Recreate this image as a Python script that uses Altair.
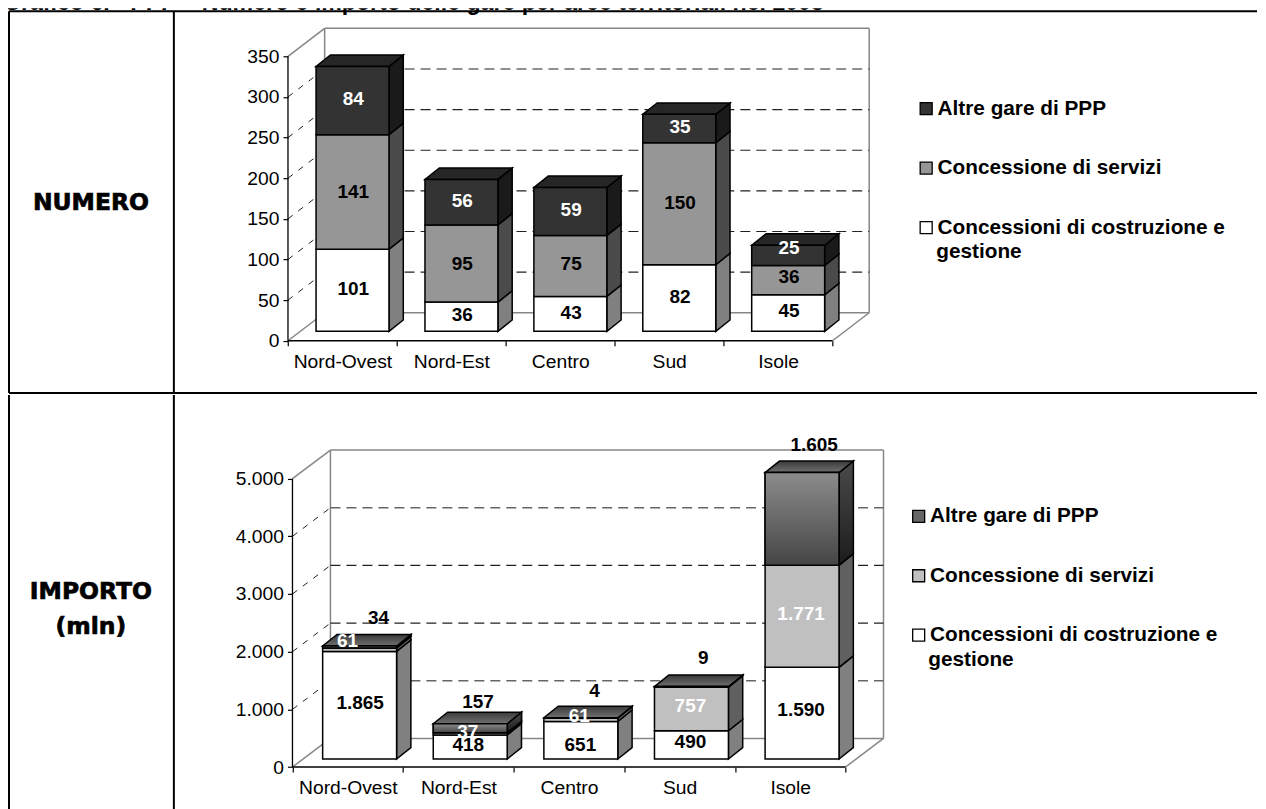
import json
import altair as alt
import pandas as pd

AREAS = ["Nord-Ovest", "Nord-Est", "Centro", "Sud", "Isole"]
SERIES = ["Altre gare di PPP", "Concessione di servizi", "Concessioni di costruzione e gestione"]
LEGEND_SECOND_LINE = "gestione"
TITLE = "Grafico 6. - PPP \u2013 Numero e importo delle gare per aree territoriali nel 2005"

# values, bottom of the stack first
NUM_COSTR = [101, 36, 43, 82, 45]
NUM_SERV = [141, 95, 75, 150, 36]
NUM_ALTRE = [84, 56, 59, 35, 25]
IMP_COSTR = [1865, 418, 651, 490, 1590]
IMP_SERV = [61, 37, 61, 757, 1771]
IMP_ALTRE = [34, 157, 4, 9, 1605]

# where the value labels sit (value units / category units)
NUM_LABEL_Y = [[64, 32, 34, 54, 36], [183, 95, 94, 170, 78], [297, 172, 161, 263, 114]]
NUM_LABEL_X = [[.599, 1.6, 2.6, 3.6, 4.6]] * 3
IMP_LABEL_Y = [[1114, 381, 381, 426, 988], [2183, 612, 889, 1057, 2661], [2587, 1119, 1322, 1882, 5589]]
IMP_LABEL_X = [[.612, 1.589, 2.603, 3.598, 4.598], [.498, 1.585, 2.592, 3.598, 4.598],
               [.778, 1.678, 2.731, 3.715, 4.716]]
NUM_TICKS = [0, 50, 100, 150, 200, 250, 300, 350]
IMP_TICKS = [0, 1000, 2000, 3000, 4000, 5000]

FONT = "Liberation Sans"
W = 1250


def it(n):
    return f"{n:,}".replace(",", ".")


def gradient(a, b):
    return alt.Gradient(gradient="linear", x1=0, x2=0, y1=0, y2=1,
                        stops=[alt.GradientStop(color=a, offset=0), alt.GradientStop(color=b, offset=1)])


def panel(cfg):
    px, py, k, cw = cfg["ox"], cfg["oy"], cfg["k"], cfg["cw"]
    H = cfg["H"]
    x_dom = [(8 - px) / cw, (8 + W - px) / cw]
    y_dom = [(py - cfg["top"] - H) / k, (py - cfg["top"]) / k]
    xs = alt.Scale(domain=x_dom, nice=False, zero=False)
    ys = alt.Scale(domain=y_dom, nice=False, zero=False)
    X = lambda f: alt.X(f, type="quantitative", scale=xs, axis=None)
    Y = lambda f: alt.Y(f, type="quantitative", scale=ys, axis=None)

    ticks = cfg["ticks"]
    ymax = ticks[-1]
    wx, wy = cfg["wall_dx"] / cw, cfg["wall_dy"] / k
    sx, sy = cfg["side_dx"] / cw, cfg["side_dy"] / k
    base = cfg["bar_base"] / k
    off, bw = cfg["bar_off"] / cw, cfg["bar_w"] / cw

    # ---- stacked segments
    segs, sides, labels = [], [], []
    for s_i, (vals, name, side) in enumerate(zip(cfg["stack"], cfg["names"], cfg["side"])):
        for i, v in enumerate(vals):
            v0 = sum(cfg["stack"][j][i] for j in range(s_i))
            L, R = i + off, i + off + bw
            b, t = v0 + base, v0 + v + base
            segs.append(dict(i=i, s=s_i, name=name, L=L, R=R, b=b, t=t))
            sides.append(dict(g=f"{i}-{s_i}", s=s_i, c=side, x=R, t=t, b=b))
            sides.append(dict(g=f"{i}-{s_i}", s=s_i, c=side, x=R + sx, t=t + sy, b=b + sy))
            labels.append(dict(x=cfg["lab_x"][s_i][i], y=cfg["lab_y"][s_i][i], text=it(v),
                               c=cfg["lab_c"][s_i]))
    segs = pd.DataFrame(segs)
    sides = pd.DataFrame(sides)
    labels = pd.DataFrame(labels)
    tops = []
    for i in range(5):
        T = base + sum(cfg["stack"][j][i] for j in range(3))
        L, R = i + off, i + off + bw
        tops.append(dict(g=i, y=T, a=L, b=R))
        tops.append(dict(g=i, y=T + sy, a=L + sx, b=R + sx))
    tops = pd.DataFrame(tops)

    # ---- walls, grid
    def rules(rows, color, width, dash=None):
        d = pd.DataFrame(rows, columns=["x", "y", "x2", "y2"])
        kw = dict(color=color, strokeWidth=width)
        if dash:
            kw["strokeDash"] = dash
        return alt.Chart(d).mark_rule(**kw).encode(
            x=X("x"), y=Y("y"), x2=alt.X2("x2"), y2=alt.Y2("y2"))

    inner = ticks[1:-1]
    walls = rules([
        [wx, wy, wx, ymax + wy], [wx, ymax + wy, 5 + wx, ymax + wy],
        [5 + wx, ymax + wy, 5 + wx, wy], [wx, wy, 5 + wx, wy],
        [0, 0, wx, wy], [0, ymax, wx, ymax + wy], [5, 0, 5 + wx, wy],
    ], "#868686", 1.5)
    grey = cfg.get("grey_grid", [])
    grid_back = [rules([[wx, v + wy, 5 + wx, v + wy] for v in inner if v not in grey],
                       "#222222", 1.1, [10, 6])]
    if grey:
        grid_back.append(rules([[wx, v + wy, 5 + wx, v + wy] for v in grey], "#666666", 1.6, [10, 6]))
    grid_side = rules([[0, v, wx, v + wy] for v in inner], "#222222", 1.0, [6, 7])

    # ---- axes: real axes, pulled in from the edges of the row
    y_offset = -(px - 8)
    x_offset = -(cfg["top"] + H - py)
    fmt = "replace(format(datum.value, ','), ',', '.')"
    y_axis_layer = alt.Chart(pd.DataFrame({"x": [0], "a": [0], "b": [ymax]})).mark_rule(
        color="black", strokeWidth=1.3).encode(
        x=X("x"),
        y=alt.Y("a:Q", scale=ys, axis=alt.Axis(
            values=ticks, orient="left", offset=y_offset, domain=False, grid=False, title=None,
            tickSize=5, tickColor="black", tickWidth=1.2, labelFont=FONT, labelFontSize=cfg["tick_fs"],
            labelColor="black", labelPadding=4, labelExpr=fmt)),
        y2=alt.Y2("b"))
    x_ticks_layer = alt.Chart(pd.DataFrame({"a": [0], "b": [5], "y": [0]})).mark_rule(
        color="black", strokeWidth=1.3).encode(
        x=alt.X("a:Q", scale=xs, axis=alt.Axis(
            values=list(range(6)), orient="bottom", offset=x_offset, domain=False, grid=False, title=None,
            tickSize=5, tickColor="black", tickWidth=1.2, labels=False)),
        x2=alt.X2("b"),
        y=Y("y"))
    names = json.dumps(AREAS)
    x_labels_layer = alt.Chart(pd.DataFrame({"a": [0.5], "y": [0]})).mark_point(opacity=0).encode(
        x=alt.X("a:Q", scale=xs, axis=alt.Axis(
            values=[i + .5 for i in range(5)], orient="bottom", offset=x_offset, domain=False, grid=False,
            title=None, ticks=False, labelFont=FONT, labelFontSize=cfg["tick_fs"], labelColor="black",
            labelPadding=cfg["x_pad"], labelExpr=f"{names}[floor(datum.value)]")),
        y=Y("y"))

    # ---- bars
    stroke = dict(stroke="black", strokeWidth=1.5)
    side_layer = alt.Chart(sides).mark_area(**stroke).encode(
        x=X("x"), y=Y("t"), y2=alt.Y2("b"), detail="g:N", fill=alt.Fill("c:N", scale=None))
    layers_extra = []
    if cfg.get("grad"):
        layers_extra.append(alt.Chart(sides[sides.s == 2]).mark_area(
            fill=gradient(*cfg["grad"]["side"]), **stroke).encode(
            x=X("x"), y=Y("t"), y2=alt.Y2("b"), detail="g:N"))
    top_fill = gradient(*cfg["grad"]["top"]) if cfg.get("grad") else cfg["top_fill"]
    top_layer = alt.Chart(tops).mark_area(orient="horizontal", fill=top_fill, **stroke).encode(
        y=Y("y"), x=X("a"), x2=alt.X2("b"), detail="g:N")
    front = alt.Chart(segs).mark_rect(**stroke).encode(
        x=X("L"), x2=alt.X2("R"), y=Y("t"), y2=alt.Y2("b"),
        color=alt.Color("name:N", scale=alt.Scale(domain=cfg["names"][::-1], range=cfg["front"][::-1]),
                        legend=alt.Legend(
            orient="none", legendX=cfg["leg_x"], legendY=cfg["leg_y"], title=None, symbolType="square",
            symbolSize=cfg["sym"], symbolStrokeColor="black", symbolStrokeWidth=1.3, symbolOpacity=1,
            labelFont=FONT, labelFontSize=cfg["leg_fs"], labelFontWeight="bold", labelColor="black",
            labelLimit=500, labelOffset=1, rowPadding=cfg["row_pad"], columnPadding=0, padding=0,
            labelExpr=f"replace(datum.label, ' {LEGEND_SECOND_LINE}', '')")))
    if cfg.get("grad"):
        layers_extra_front = [alt.Chart(segs[segs.s == 2]).mark_rect(
            fill=gradient(*cfg["grad"]["front"]), **stroke).encode(
            x=X("L"), x2=alt.X2("R"), y=Y("t"), y2=alt.Y2("b"))]
    else:
        layers_extra_front = []
    label_layer = alt.Chart(labels).mark_text(font=FONT, fontSize=cfg["lab_fs"], fontWeight="bold",
                                              baseline="middle").encode(
        x=X("x"), y=Y("y"), text="text:N", color=alt.Color("c:N", scale=None))

    # ---- table frame and row heading (decoration of the page, not data)
    def frame(x, x2, y, y2):
        return alt.Chart(pd.DataFrame({"f": [0]})).mark_rule(color="black", strokeWidth=2).encode(
            x=alt.value(x), x2=alt.value(x2), y=alt.value(y), y2=alt.value(y2))

    heading = []
    for text, y in cfg["head"]:
        heading.append(alt.Chart(pd.DataFrame({"t": [text]})).mark_text(
            font="DejaVu Sans", fontWeight="bold", fontSize=23.5, baseline="middle", color="black",
            stroke="black", strokeWidth=0.7).encode(
            text="t:N", x=alt.value(83), y=alt.value(y)))
    second_line = alt.Chart(pd.DataFrame({"t": [LEGEND_SECOND_LINE]})).mark_text(
        font=FONT, fontWeight="bold", fontSize=cfg["leg_fs"], baseline="middle", align="left", color="black"
    ).encode(text="t:N", x=alt.value(cfg["second"][0]), y=alt.value(cfg["second"][1]))

    extra = []
    if cfg.get("title"):
        extra.append(alt.Chart(pd.DataFrame({"t": [TITLE]})).mark_text(
            font=FONT, fontWeight="bold", fontSize=cfg["title_fs"], align="left", baseline="alphabetic",
            color="black", clip=True).encode(text="t:N", x=alt.value(-5), y=alt.value(2)))

    return alt.layer(
        walls, *grid_back, grid_side, x_ticks_layer, x_labels_layer, y_axis_layer,
        side_layer, *layers_extra, top_layer, front, *layers_extra_front, label_layer,
        second_line, *heading, *cfg["frames"](frame), *extra,
    ).resolve_axis(x="independent", y="independent").properties(width=W, height=H)


row1 = panel(dict(
    ox=288.2, oy=340.7, k=0.8134, cw=109, top=8, H=385, ticks=NUM_TICKS,
    wall_dx=36.7, wall_dy=28, side_dx=14.3, side_dy=11.4, bar_base=9.4, bar_off=28.1, bar_w=73,
    stack=[NUM_COSTR, NUM_SERV, NUM_ALTRE], names=SERIES[::-1],
    front=["#ffffff", "#969696", "#333333"], side=["#808080", "#4b4b4b", "#1a1a1a"], top_fill="#262626",
    lab_x=NUM_LABEL_X, lab_y=NUM_LABEL_Y, lab_c=["black", "black", "white"], lab_fs=19,
    tick_fs=19.3, x_pad=11.5, leg_x=908.5, leg_y=90, sym=144, leg_fs=20.8, row_pad=37.5,
    second=(929, 243.5), head=[("NUMERO", 195)], title=True, title_fs=23.15,
    frames=lambda f: [f(1, W, 3, 3), f(1, 1, 3, 385), f(166, 166, 3, 385), f(1, W, 385, 385)],
))
row2 = panel(dict(
    ox=292.7, oy=765.3, k=0.05772, cw=110.7, top=393, H=416, ticks=IMP_TICKS,
    wall_dx=38, wall_dy=28.6, side_dx=14.3, side_dy=11.5, bar_base=8, bar_off=30.2, bar_w=74,
    stack=[IMP_COSTR, IMP_SERV, IMP_ALTRE], names=SERIES[::-1],
    front=["#ffffff", "#c0c0c0", "#666666"], side=["#808080", "#606060", "#333333"],
    grad=dict(front=("#8c8c8c", "#454545"), side=("#4a4a4a", "#1c1c1c"), top=("#3a3a3a", "#707070")),
    grey_grid=[1000, 4000],
    lab_x=IMP_LABEL_X, lab_y=IMP_LABEL_Y, lab_c=["black", "white", "black"], lab_fs=19,
    tick_fs=19.3, x_pad=11.5, leg_x=901, leg_y=111, sym=144, leg_fs=20.8, row_pad=37.5,
    second=(921, 265), head=[("IMPORTO", 197), ("(mln)", 232)],
    frames=lambda f: [f(1, 1, 0, 416), f(166, 166, 0, 416)],
))

chart = alt.vconcat(row1, row2, spacing=0).resolve_scale(color="independent").properties(padding=0).configure_view(stroke=None)
chart.save("out.html", embed_options={"renderer": "svg", "actions": False})
